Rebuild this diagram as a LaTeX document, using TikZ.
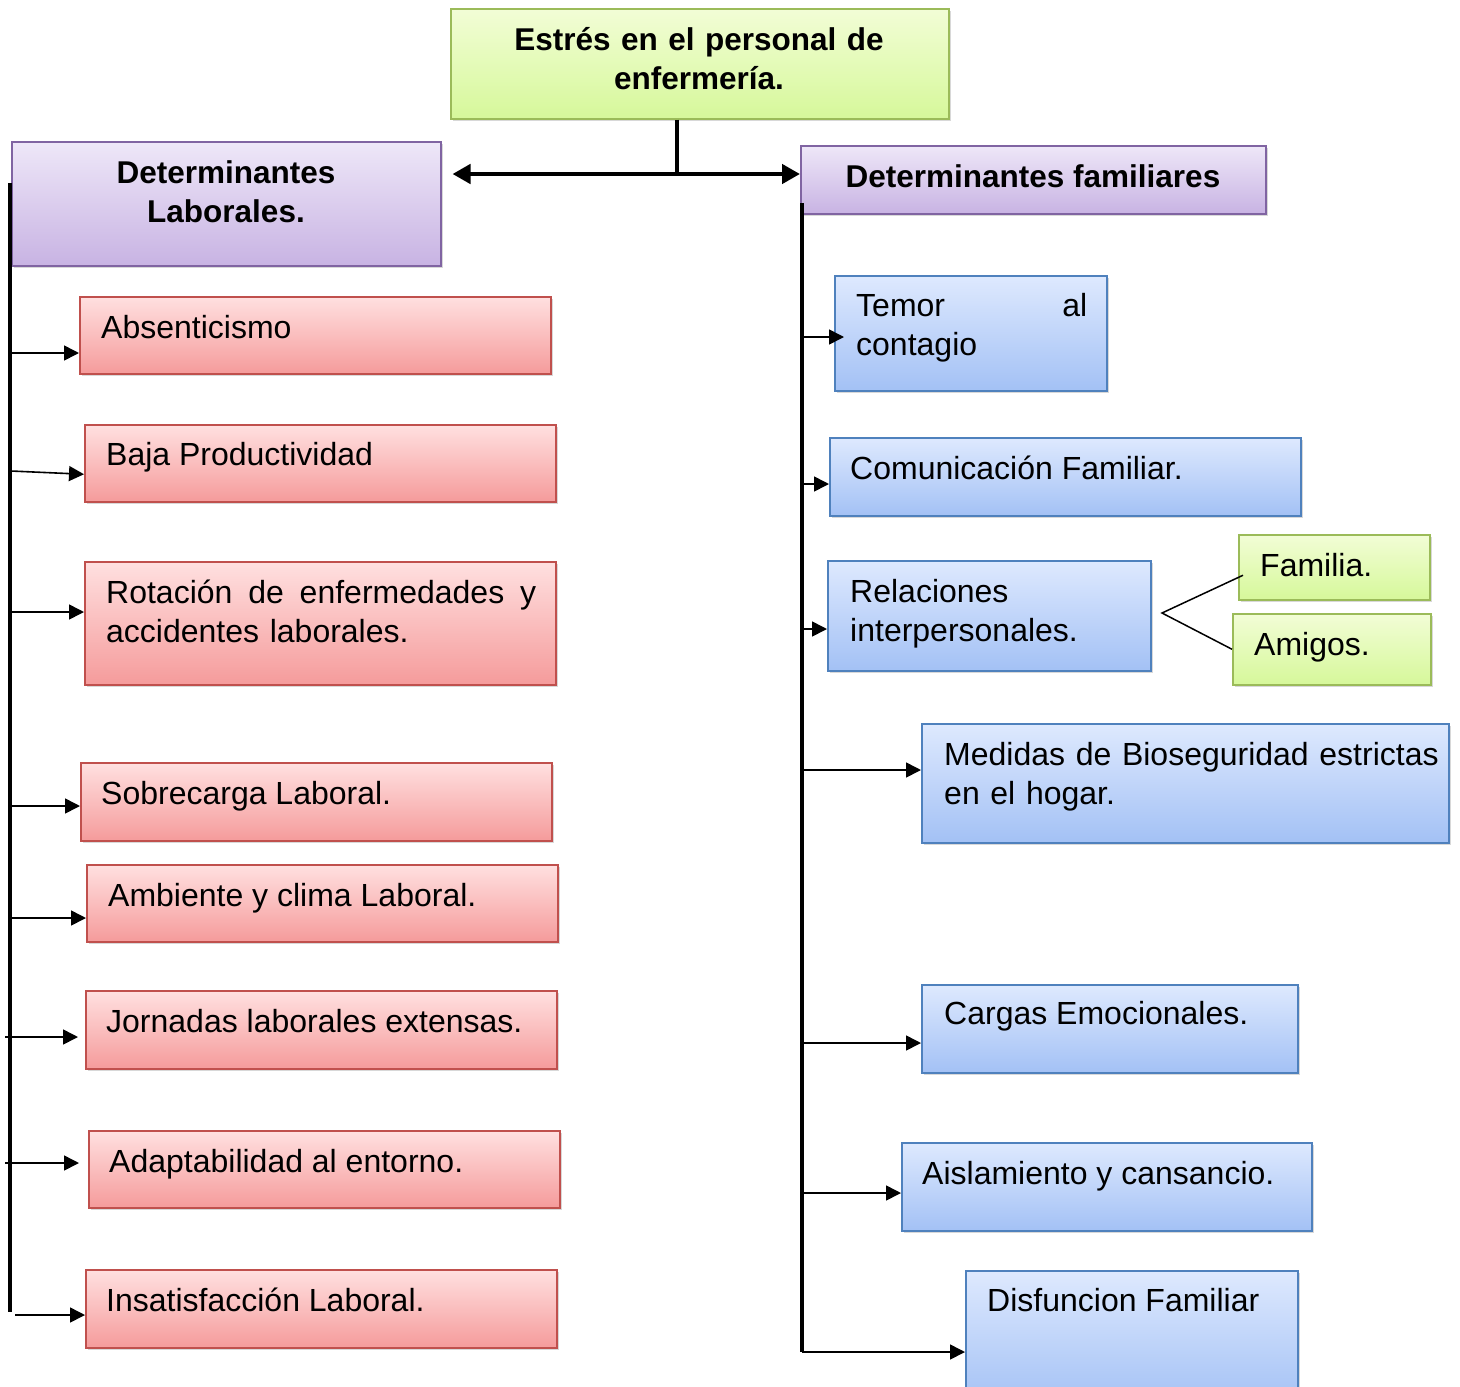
\documentclass[tikz,border=0pt]{standalone}
\usepackage{fontspec}
\setmainfont{Liberation Sans}
\usetikzlibrary{arrows.meta,shadows,calc}
\definecolor{redT}{RGB}{255,224,224}
\definecolor{redD}{RGB}{245,155,155}
\definecolor{redB}{RGB}{192,80,77}
\definecolor{bluT}{RGB}{222,233,254}
\definecolor{bluD}{RGB}{163,193,245}
\definecolor{bluB}{RGB}{79,129,189}
\definecolor{grnT}{RGB}{242,253,214}
\definecolor{grnD}{RGB}{214,248,154}
\definecolor{grnB}{RGB}{155,187,89}
\definecolor{purT}{RGB}{238,231,248}
\definecolor{purD}{RGB}{200,179,227}
\definecolor{purB}{RGB}{128,100,162}
\begin{document}
\begin{tikzpicture}[x=1pt,y=-1pt,
  box/.style={draw, line width=1.5pt, anchor=north west, inner sep=0pt,
    drop shadow={shadow xshift=2pt,shadow yshift=-2.5pt,opacity=0.3}},
  redbox/.style={box, draw=redB, top color=redT, bottom color=redD},
  blubox/.style={box, draw=bluB, top color=bluT, bottom color=bluD},
  grnbox/.style={box, draw=grnB, top color=grnT, bottom color=grnD},
  purbox/.style={box, draw=purB, top color=purT, bottom color=purD},
  txt/.style={font=\fontsize{32}{39}\selectfont, inner sep=0pt},
  btxt/.style={font=\fontsize{31.5}{39}\selectfont\bfseries, inner sep=0pt},
  trunk/.style={line width=3.8pt},
  arr/.style={line width=1.6pt, -{Triangle[length=15pt,width=15pt]}},
  bigarr/.style={line width=4.5pt, -{Triangle[length=18pt,width=19pt]}},
  thin/.style={line width=1.5pt}]
\clip (0,0) rectangle (1460,1387);
\fill[white] (0,0) rectangle (1460,1387);
% boxes
\node[grnbox, minimum width=498pt, minimum height=110pt] (title) at (450,8) {};
\node[purbox, minimum width=429pt, minimum height=124pt] (dl) at (11,141) {};
\node[purbox, minimum width=465pt, minimum height=68pt] (df) at (800,145) {};
\node[redbox, minimum width=471pt, minimum height=77pt] (abs) at (79,296) {};
\node[redbox, minimum width=471pt, minimum height=77pt] (baja) at (84,424) {};
\node[redbox, minimum width=471pt, minimum height=123pt] (rot) at (84,561) {};
\node[redbox, minimum width=471pt, minimum height=78pt] (sob) at (80,762) {};
\node[redbox, minimum width=471pt, minimum height=77pt] (amb) at (86,864) {};
\node[redbox, minimum width=471pt, minimum height=78pt] (jor) at (85,990) {};
\node[redbox, minimum width=471pt, minimum height=77pt] (ada) at (88,1130) {};
\node[redbox, minimum width=471pt, minimum height=78pt] (ins) at (85,1269) {};
\node[blubox, minimum width=272pt, minimum height=115pt] (tem) at (834,275) {};
\node[blubox, minimum width=471pt, minimum height=78pt] (com) at (829,437) {};
\node[blubox, minimum width=323pt, minimum height=110pt] (rel) at (827,560) {};
\node[grnbox, minimum width=191pt, minimum height=65pt] (fam) at (1238,534) {};
\node[grnbox, minimum width=198pt, minimum height=71pt] (ami) at (1232,613) {};
\node[blubox, minimum width=527pt, minimum height=119pt] (med) at (921,723) {};
\node[blubox, minimum width=376pt, minimum height=88pt] (car) at (921,984) {};
\node[blubox, minimum width=410pt, minimum height=88pt] (ais) at (901,1142) {};
\node[blubox, minimum width=332pt, minimum height=135pt] (dis) at (965,1270) {};
% texts
\node[btxt, anchor=base, text width=480pt, align=center] (t-title) at (699,50) {Estrés en el personal de\\enfermería.};
\node[btxt, anchor=base, text width=400pt, align=center] (t-dl) at (226,183) {Determinantes\\Laborales.};
\node[btxt, anchor=base] (t-df) at (1033,187) {Determinantes familiares};
\node[txt, anchor=base west] (t-abs) at (101,338) {Absenticismo};
\node[txt, anchor=base west] (t-baja) at (106,465) {Baja Productividad};
\node[txt, anchor=base west, text width=430pt, align=left] (t-rot) at (106,603) {Rotación\hfill de\hfill enfermedades\hfill y\\accidentes laborales.};
\node[txt, anchor=base west] (t-sob) at (101,804) {Sobrecarga Laboral.};
\node[txt, anchor=base west] (t-amb) at (108,906) {Ambiente y clima Laboral.};
\node[txt, anchor=base west] (t-jor) at (106,1032) {Jornadas laborales extensas.};
\node[txt, anchor=base west] (t-ada) at (109,1172) {Adaptabilidad al entorno.};
\node[txt, anchor=base west] (t-ins) at (106,1311) {Insatisfacción Laboral.};
\node[txt, anchor=base west, text width=231pt, align=left] (t-tem) at (856,316) {Temor\hfill al\\contagio};
\node[txt, anchor=base west] (t-com) at (850,479) {Comunicación Familiar.};
\node[txt, anchor=base west, text width=290pt, align=left] (t-rel) at (850,602) {Relaciones\\interpersonales.};
\node[txt, anchor=base west] (t-fam) at (1260,576) {Familia.};
\node[txt, anchor=base west] (t-ami) at (1254,655) {Amigos.};
\node[txt, anchor=base west, text width=500pt, align=left] (t-med) at (944,765) {Medidas de Bioseguridad estrictas\\en el hogar.};
\node[txt, anchor=base west] (t-car) at (944,1024) {Cargas Emocionales.};
\node[txt, anchor=base west] (t-ais) at (922,1184) {Aislamiento y cansancio.};
\node[txt, anchor=base west] (t-dis) at (987,1311) {Disfuncion Familiar};
% top connectors
\coordinate (j) at (677,174);
\draw[line width=4.5pt] (title.south -| j) -- (j);
\draw[bigarr] (j) -- ($(dl.east |- j)+(11,0)$);
\draw[bigarr] (j) -- (df.west |- j);
% left trunk
\coordinate (L0) at (10,183);
\coordinate (L9) at (10,1312);
\draw[trunk] (L0) -- (L9);
\coordinate (la1) at (10,353);
\coordinate (la2) at (11,471);
\coordinate (la3) at (10,612);
\coordinate (la4) at (10,806);
\coordinate (la5) at (10,918);
\coordinate (la6) at (5,1037);
\coordinate (la7) at (5,1163);
\coordinate (la8) at (15,1315);
\draw[arr] (la1) -- (la1 -| abs.west);
\draw[arr] (la2) -- ($(baja.west)+(0,11)$);
\draw[arr] (la3) -- (la3 -| rot.west);
\draw[arr] (la4) -- (la4 -| sob.west);
\draw[arr] (la5) -- (la5 -| amb.west);
\draw[arr] (la6) -- ($(la6 -| jor.west)+(-7,0)$);
\draw[arr] (la7) -- ($(la7 -| ada.west)+(-9,0)$);
\draw[arr] (la8) -- (la8 -| ins.west);
% right trunk
\coordinate (R0) at (802,203);
\coordinate (R9) at (802,1352);
\draw[trunk] (R0) -- (R9);
\coordinate (ra1) at (802,337);
\coordinate (ra2) at (802,484);
\coordinate (ra3) at (802,629);
\coordinate (ra4) at (802,770);
\coordinate (ra5) at (802,1043);
\coordinate (ra6) at (802,1193);
\coordinate (ra7) at (802,1352);
\draw[arr] (ra1) -- ($(ra1 -| tem.west)+(10,0)$);
\draw[arr] (ra2) -- (ra2 -| com.west);
\draw[arr] (ra3) -- (ra3 -| rel.west);
\draw[arr] (ra4) -- (ra4 -| med.west);
\draw[arr] (ra5) -- (ra5 -| car.west);
\draw[arr] (ra6) -- (ra6 -| ais.west);
\draw[arr] (ra7) -- (ra7 -| dis.west);
% relaciones split
\coordinate (rs) at (1162,613);
\draw[thin] ($(fam.west)+(5,8)$) -- (rs) -- (ami.west);
\end{tikzpicture}
\end{document}
